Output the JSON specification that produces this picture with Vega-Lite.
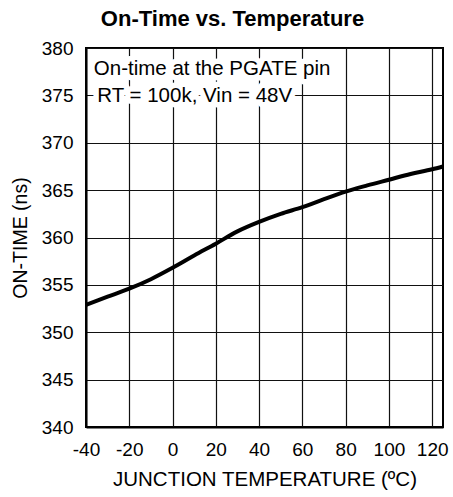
{
  "$schema": "https://vega.github.io/schema/vega-lite/v6.json",
  "width": 357,
  "height": 379,
  "autosize": {"type": "none"},
  "padding": {"left": 86, "top": 48, "right": 10, "bottom": 70},
  "background": "white",
  "title": {
    "text": "On-Time vs. Temperature",
    "font": "Liberation Sans",
    "fontSize": 22,
    "fontWeight": "bold",
    "color": "black",
    "anchor": "middle",
    "frame": "group",
    "dx": -32,
    "offset": 8
  },
  "config": {
    "view": {"stroke": "black", "strokeWidth": 2},
    "axis": {
      "labelFont": "Liberation Sans",
      "titleFont": "Liberation Sans",
      "labelFontSize": 19,
      "titleFontSize": 20,
      "titleFontWeight": "normal",
      "labelColor": "black",
      "titleColor": "black",
      "domainColor": "black",
      "domainWidth": 2,
      "ticks": false,
      "gridColor": "#111111",
      "gridWidth": 1.2,
      "gridOpacity": 1
    }
  },
  "layer": [
    {
      "data": {
        "values": [
          {"temp": -40, "ontime": 352.9},
          {"temp": -30, "ontime": 353.75},
          {"temp": -20, "ontime": 354.6},
          {"temp": -10, "ontime": 355.6},
          {"temp": 0, "ontime": 356.8},
          {"temp": 10, "ontime": 358.1},
          {"temp": 20, "ontime": 359.35},
          {"temp": 30, "ontime": 360.65},
          {"temp": 40, "ontime": 361.65},
          {"temp": 50, "ontime": 362.5},
          {"temp": 60, "ontime": 363.2},
          {"temp": 70, "ontime": 364.05},
          {"temp": 80, "ontime": 364.85},
          {"temp": 90, "ontime": 365.5},
          {"temp": 100, "ontime": 366.1},
          {"temp": 110, "ontime": 366.7},
          {"temp": 120, "ontime": 367.2},
          {"temp": 125, "ontime": 367.5}
        ]
      },
      "mark": {"type": "line", "color": "black", "strokeWidth": 4, "interpolate": "monotone"},
      "encoding": {
        "x": {
          "field": "temp",
          "type": "quantitative",
          "scale": {"domain": [-40, 125], "nice": false, "zero": false},
          "axis": {
            "title": "JUNCTION TEMPERATURE (ºC)",
            "titleFontSize": 20.5,
            "values": [-40, -20, 0, 20, 40, 60, 80, 100, 120],
            "labelExpr": "'' + datum.value",
            "labelPadding": 13,
            "titlePadding": 10,
            "labelFlush": false
          }
        },
        "y": {
          "field": "ontime",
          "type": "quantitative",
          "scale": {"domain": [340, 380], "nice": false, "zero": false},
          "axis": {
            "title": "ON-TIME (ns)",
            "titleFontSize": 19.5,
            "values": [340, 345, 350, 355, 360, 365, 370, 375, 380],
            "labelPadding": 13,
            "titlePadding": 11,
            "labelFlush": false
          }
        }
      }
    },
    {
      "data": {
        "values": [
          {"label": "On-time at the PGATE pin", "tx": -36.4, "ty": 377.15},
          {"label": "RT = 100k, Vin = 48V", "tx": -34.8, "ty": 374.25}
        ]
      },
      "layer": [
        {
          "mark": {"type": "text", "align": "left", "baseline": "alphabetic", "font": "Liberation Sans", "fontSize": 20.5, "color": "white", "stroke": "white", "strokeWidth": 11, "strokeJoin": "round"}
        },
        {
          "mark": {"type": "text", "align": "left", "baseline": "alphabetic", "font": "Liberation Sans", "fontSize": 20.5, "color": "black"}
        }
      ],
      "encoding": {
        "x": {"field": "tx", "type": "quantitative"},
        "y": {"field": "ty", "type": "quantitative"},
        "text": {"field": "label"}
      }
    }
  ]
}
